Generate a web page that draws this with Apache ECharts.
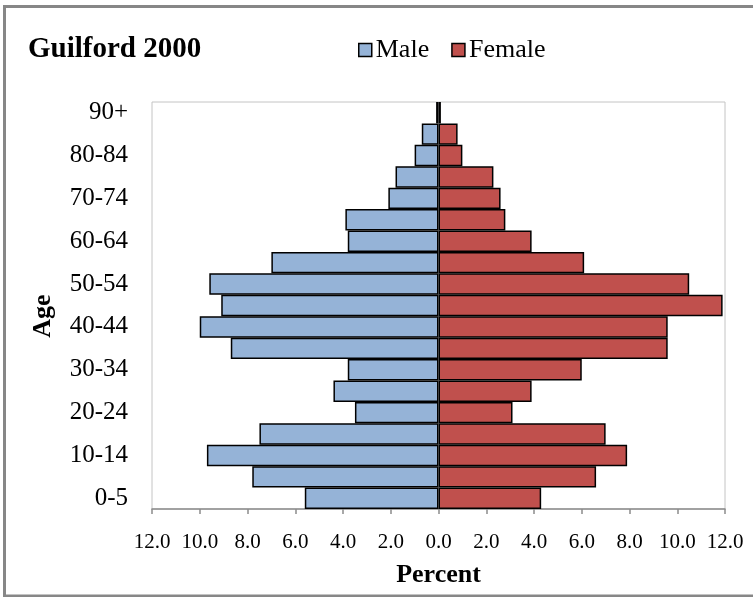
<!DOCTYPE html>
<html>
<head>
<meta charset="utf-8">
<script src="https://cdn.jsdelivr.net/npm/echarts@6/dist/echarts.min.js"></script>
<style>
html,body{margin:0;padding:0;background:#fff;}
#chart{width:753px;height:597px;}
</style>
</head>
<body>
<div id="chart"></div>
<script>
var categories = ['0-5','5-9','10-14','15-19','20-24','25-29','30-34','35-39','40-44','45-49','50-54','55-59','60-64','65-69','70-74','75-79','80-84','85-89','90+'];
var male   = [5.6, 7.8, 9.7, 7.5, 3.5, 4.4, 3.8, 8.7, 10.0, 9.1, 9.6, 7.0, 3.8, 3.9, 2.1, 1.8, 1.0, 0.7, 0.1];
var female = [4.3, 6.6, 7.9, 7.0, 3.1, 3.9, 6.0, 9.6, 9.6, 11.9, 10.5, 6.1, 3.9, 2.8, 2.6, 2.3, 1.0, 0.8, 0.1];
var xTicks = { min: -12, max: 12, interval: 2 };

var FONT = '"Liberation Serif", "Times New Roman", serif';
var chart = echarts.init(document.getElementById('chart'), null, {renderer: 'canvas'});
chart.setOption({
  backgroundColor: '#fff',
  animation: false,
  textStyle: { fontFamily: FONT, color: '#000' },
  title: {
    text: 'Guilford 2000',
    left: 23, top: 30,
    textStyle: { fontFamily: FONT, fontSize: 29, fontWeight: 'bold', color: '#000' }
  },
  legend: {
    data: ['Male', 'Female'],
    left: 353, top: 32,
    icon: 'rect',
    itemWidth: 13, itemHeight: 13, itemGap: 22,
    itemStyle: { borderColor: '#000', borderWidth: 1.5 },
    textStyle: { fontFamily: FONT, fontSize: 26, color: '#000', padding: [0, 0, 0, -1] }
  },
  grid: {
    left: 152, right: 28, top: 102, bottom: 88,
    show: true, borderColor: '#c4c4c4', borderWidth: 1,
    outerBoundsMode: 'none'
  },
  xAxis: {
    type: 'value',
    min: xTicks.min, max: xTicks.max, interval: xTicks.interval,
    name: 'Percent', nameLocation: 'middle', nameGap: 53,
    nameTextStyle: { fontFamily: FONT, fontSize: 26, fontWeight: 'bold', color: '#000' },
    axisLine: { show: true, lineStyle: { color: '#8c8c8c', width: 1.5 } },
    axisTick: { show: true, length: 5, lineStyle: { color: '#8c8c8c', width: 1.5 } },
    splitLine: { show: false },
    axisLabel: {
      fontFamily: FONT, fontSize: 21, color: '#000', margin: 23,
      formatter: function (v) { return Math.abs(v).toFixed(1); }
    }
  },
  yAxis: {
    type: 'category',
    data: categories,
    axisLine: { show: false, onZero: false },
    axisTick: { show: false },
    axisLabel: { interval: 1, fontFamily: FONT, fontSize: 25, color: '#000', margin: 24 }
  },
  graphic: [
    {
      type: 'rect', silent: true, z: 100,
      shape: { x: 4.5, y: 6.5, width: 800, height: 589.5 },
      style: { fill: 'none', stroke: '#878787', lineWidth: 3 }
    },
    {
      type: 'text', silent: true,
      x: 43, y: 316, rotation: Math.PI / 2,
      style: {
        text: 'Age', fontFamily: FONT, fontSize: 26, fontWeight: 'bold', fill: '#000',
        textAlign: 'center', textVerticalAlign: 'middle'
      }
    }
  ],
  series: [
    {
      name: 'Male', type: 'bar', stack: 'pyr',
      barCategoryGap: '0%', barGap: '0%',
      data: male.map(function (v) { return -v; }),
      itemStyle: { color: '#95b3d7', borderColor: '#000', borderWidth: 1.5 }
    },
    {
      name: 'Female', type: 'bar', stack: 'pyr',
      barCategoryGap: '0%', barGap: '0%',
      data: female,
      itemStyle: { color: '#c0504d', borderColor: '#000', borderWidth: 1.5 }
    }
  ]
});
</script>
</body>
</html>
